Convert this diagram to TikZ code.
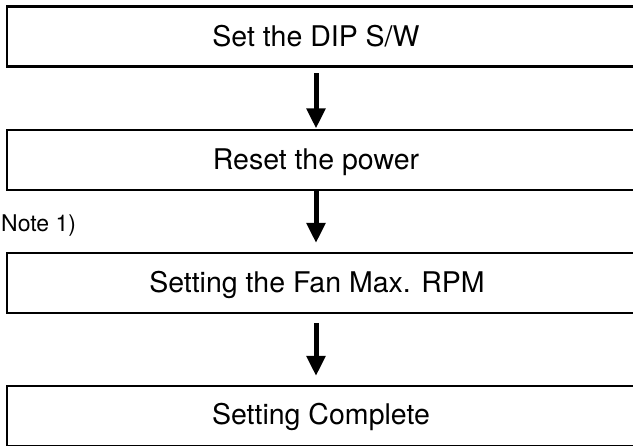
\documentclass[tikz,border=0pt]{standalone}
\usepackage{fontspec}
\setmainfont{TeX Gyre Heros}
\usetikzlibrary{arrows.meta}
\begin{document}
\begin{tikzpicture}[x=1pt,y=-1pt,
  stepbox/.style={draw=black, line width=2.5pt, rectangle, inner sep=0pt, outer sep=0pt,
                  minimum width=638pt, minimum height=60pt, anchor=north west},
  steptext/.style={anchor=base, inner sep=0pt, font=\fontsize{28.5}{34}\selectfont},
  notetext/.style={anchor=base west, inner sep=0pt, font=\fontsize{23}{28}\selectfont},
  flowarrow/.style={line width=5pt, -{Triangle[width=18pt,length=20pt]}}
]
\useasboundingbox[fill=white] (0,0) rectangle (633,446);
% boxes
\node[stepbox] (b1) at (7,6.5) {};
\node[stepbox] (b2) at (7,130) {};
\node[stepbox] (b3) at (7,253) {};
\node[stepbox] (b4) at (7,386) {};
% texts
\node[steptext] (t1) at (316,47) {Set the DIP S/W};
\node[steptext] (t2) at (316,170) {Reset the power};
\node[steptext] (t3) at (317,293) {Setting the Fan Max. RPM};
\node[steptext] (t4) at (321,425) {Setting Complete};
\node[notetext] (n1) at (1,232) {Note 1)};
% arrows
\draw[flowarrow] ([yshift=-7pt]b1.south -| t1.base) -- ([yshift=1.5pt]b2.north -| t1.base);
\draw[flowarrow] (b2.south -| t1.base) -- ([yshift=10pt]b3.north -| t1.base);
\draw[flowarrow] ([yshift=-10pt]b3.south -| t1.base) -- ([yshift=10pt]b4.north -| t1.base);
\end{tikzpicture}
\end{document}
